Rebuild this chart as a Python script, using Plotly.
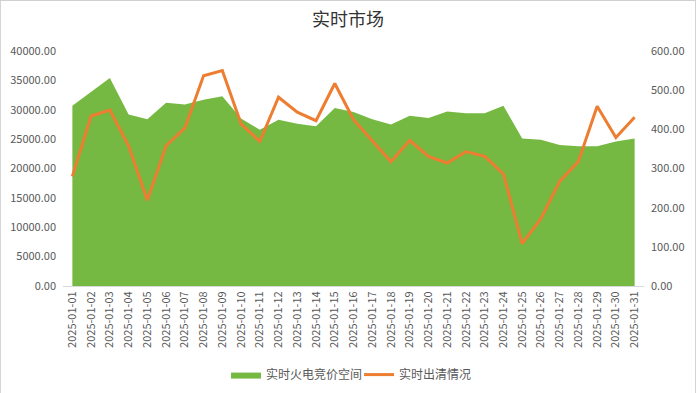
import plotly.graph_objects as go

dates = [f"2025-01-{d:02d}" for d in range(1, 32)]
space_values = [30700, 33000, 35400, 29200, 28400, 31200, 30900, 31700, 32300, 28500,
                26600, 28300, 27600, 27200, 30300, 29600, 28400, 27500, 29000, 28600,
                29700, 29400, 29400, 30700, 25100, 24900, 24000, 23800, 23800, 24600, 25100]
clear_values = [280, 434, 449, 358, 219, 358, 403, 537, 550, 414,
                369, 482, 444, 422, 517, 425, 371, 317, 372, 331,
                314, 343, 331, 286, 108, 172, 267, 318, 459, 379, 431]
left_ticks = [0, 5000, 10000, 15000, 20000, 25000, 30000, 35000, 40000]
right_ticks = [0, 100, 200, 300, 400, 500, 600]

FONT = "Microsoft YaHei, Noto Sans CJK SC, sans-serif"
GRAY = "#595959"

fig = go.Figure()
fig.add_trace(go.Scatter(
    x=dates, y=space_values, name="实时火电竞价空间",
    mode="lines", line=dict(width=0, color="#76B942"),
    fill="tozeroy", fillcolor="#76B942", yaxis="y",
))
fig.add_trace(go.Scatter(
    x=dates, y=clear_values, name="实时出清情况",
    mode="lines", line=dict(width=3, color="#ED7D31"),
    yaxis="y2",
))

fig.update_layout(
    width=696, height=393,
    margin=dict(l=63, r=52, t=51, b=107, autoexpand=False),
    paper_bgcolor="white", plot_bgcolor="white",
    title=dict(text="实时市场", x=0.5, xanchor="center", y=0.95, yanchor="middle",
               font=dict(family="Noto Sans CJK SC", size=18, color="#333333")),
    font=dict(family=FONT, size=11, color=GRAY),
    showlegend=True,
    legend=dict(orientation="h", x=0.2806, xanchor="left", y=-0.377, yanchor="middle",
                font=dict(size=12, color=GRAY), traceorder="normal",
                itemwidth=30, tracegroupgap=0,
                entrywidth=88, entrywidthmode="pixels"),
    xaxis=dict(type="category", range=[-0.5, 30.5], tickangle=-90,
               tickfont=dict(size=11, color=GRAY), showgrid=False,
               showline=True, linecolor="#D9D9D9", linewidth=1, ticks="",
               zeroline=False, automargin=False),
    yaxis=dict(range=[0, 40000], tickvals=left_ticks,
               ticktext=[f"{v:.2f}" for v in left_ticks],
               showgrid=False, zeroline=False, showline=False, automargin=False,
               tickfont=dict(size=11, color=GRAY), ticklabelstandoff=6),
    yaxis2=dict(range=[0, 600], tickvals=right_ticks,
                ticktext=[f"{v:.2f}" for v in right_ticks],
                overlaying="y", side="right", showgrid=False, zeroline=False,
                showline=False, automargin=False,
                tickfont=dict(size=11, color=GRAY), ticklabelstandoff=6),
    shapes=[dict(type="rect", xref="paper", yref="paper",
                 x0=-0.1082, x1=1.0892, y0=-0.4604, y1=1.2162,
                 line=dict(color="#D0D0D0", width=1.5), layer="above")],
)

fig.write_html("out.html", config={"displayModeBar": False},
               post_script="document.body.style.margin='0';document.body.style.overflow='hidden';")
